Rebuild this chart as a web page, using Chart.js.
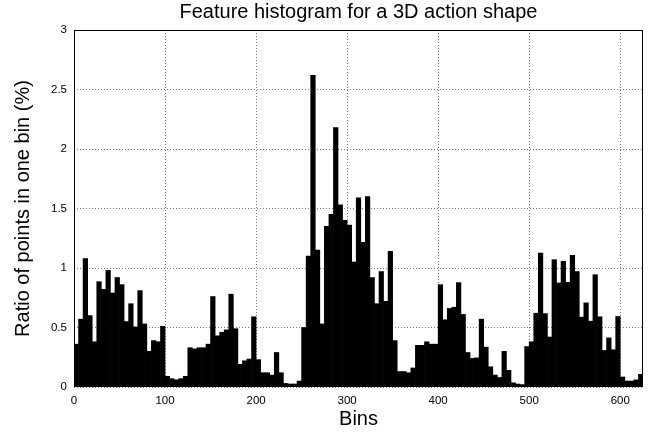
<!DOCTYPE html>
<html>
<head>
<meta charset="utf-8">
<title>Feature histogram</title>
<script src="https://cdn.jsdelivr.net/npm/chart.js@4.4.1/dist/chart.umd.min.js"></script>
<style>
  html, body { margin: 0; padding: 0; background: #fff; }
  #wrap { width: 660px; height: 434px; }
</style>
</head>
<body>
<div id="wrap"><canvas id="hist" width="660" height="434"></canvas></div>
<script>
/* =======================
   DATA
======================= */
// each bar covers 5 bins
const binWidth = 5;

// ratio of points per bar (%), bins 0..624
const ratios = [
  0.36, 0.57, 1.08, 0.60, 0.38, 0.885, 0.82, 0.98, 0.79, 0.92,
  0.86, 0.55, 0.70, 0.505, 0.81, 0.53, 0.30, 0.39, 0.38, 0.51,
  0.09, 0.07, 0.06, 0.07, 0.09, 0.33, 0.32, 0.33, 0.33, 0.36,
  0.76, 0.43, 0.46, 0.48, 0.78, 0.49, 0.19, 0.22, 0.235, 0.59,
  0.23, 0.12, 0.12, 0.10, 0.29, 0.12, 0.03, 0.025, 0.025, 0.05,
  0.50, 1.10, 2.62, 1.15, 0.53, 1.35, 1.45, 2.18, 1.53, 1.40,
  1.36, 1.05, 1.59, 1.215, 1.60, 0.92, 0.70, 0.97, 0.72, 1.14,
  0.39, 0.13, 0.13, 0.12, 0.16, 0.35, 0.35, 0.38, 0.36, 0.36,
  0.86, 0.565, 0.66, 0.67, 0.877, 0.61, 0.29, 0.24, 0.245, 0.57,
  0.335, 0.17, 0.10, 0.08, 0.30, 0.14, 0.035, 0.025, 0.02, 0.34,
  0.38, 0.62, 1.125, 0.617, 0.42, 1.07, 0.874, 1.056, 0.88, 1.106,
  0.97, 0.587, 0.707, 0.553, 0.944, 0.59, 0.307, 0.413, 0.313, 0.592,
  0.084, 0.05, 0.05, 0.06, 0.106
];

const xTicks = [0, 100, 200, 300, 400, 500, 600];
const yTicks = [0, 0.5, 1, 1.5, 2, 2.5, 3];

const FONT = "'Liberation Sans', Arial, Helvetica, sans-serif";

/* =======================
   FRAME AROUND PLOT
======================= */
const framePlugin = {
  id: "frame",
  afterDatasetsDraw(chart) {
    const { ctx, chartArea: a } = chart;
    ctx.save();
    ctx.strokeStyle = "#000";
    ctx.lineWidth = 1;
    ctx.strokeRect(a.left + 0.5, a.top + 0.5, a.width - 1, a.height - 1);
    ctx.restore();
  }
};

/* =======================
   CHART
======================= */
new Chart(document.getElementById("hist"), {
  type: "bar",
  data: {
    datasets: [{
      data: ratios.map((v, i) => ({ x: i * binWidth + binWidth / 2, y: v })),
      backgroundColor: "#000",
      borderWidth: 0,
      barPercentage: 1,
      categoryPercentage: 1
    }]
  },
  options: {
    responsive: false,
    animation: false,
    events: [],
    layout: { padding: { left: 0, right: 17, top: 0, bottom: 0 } },
    plugins: {
      legend: { display: false },
      tooltip: { enabled: false }
    },
    scales: {
      // top axis only carries the title, so it is centred over the plot area
      x2: {
        type: "linear",
        position: "top",
        min: 0,
        max: 625,
        offset: false,
        afterFit: (s) => { s.height = 30; },
        ticks: { display: false },
        grid: { display: false },
        border: { display: false },
        title: {
          display: true,
          text: "Feature histogram for a 3D action shape",
          color: "#000",
          font: { family: FONT, size: 20 },
          padding: { top: 0, bottom: 0 }
        }
      },
      x: {
        type: "linear",
        min: 0,
        max: 625,
        offset: false,
        afterBuildTicks: (s) => { s.ticks = xTicks.map(v => ({ value: v })); },
        afterFit: (s) => { s.height = 47; },
        ticks: {
          color: "#000",
          font: { family: FONT, size: 11.5 },
          padding: 7,
          maxRotation: 0,
          callback: (v) => String(v)
        },
        grid: { offset: false, color: "#777", lineWidth: 1, drawTicks: false },
        border: { display: false, dash: [1, 2] },
        title: {
          display: true,
          text: "Bins",
          color: "#000",
          font: { family: FONT, size: 20 },
          padding: { top: 0, bottom: 3 }
        }
      },
      y: {
        min: 0,
        max: 3,
        afterBuildTicks: (s) => { s.ticks = yTicks.map(v => ({ value: v })); },
        afterFit: (s) => { s.width = 74; },
        ticks: {
          color: "#000",
          font: { family: FONT, size: 11.5 },
          padding: 7,
          callback: (v) => String(v)
        },
        grid: { color: "#777", lineWidth: 1, drawTicks: false },
        border: { display: false, dash: [1, 2] },
        title: {
          display: true,
          text: "Ratio of points in one bin (%)",
          color: "#000",
          font: { family: FONT, size: 20 },
          padding: { top: 11, bottom: 0 }
        }
      }
    }
  },
  plugins: [framePlugin]
});
</script>
</body>
</html>
